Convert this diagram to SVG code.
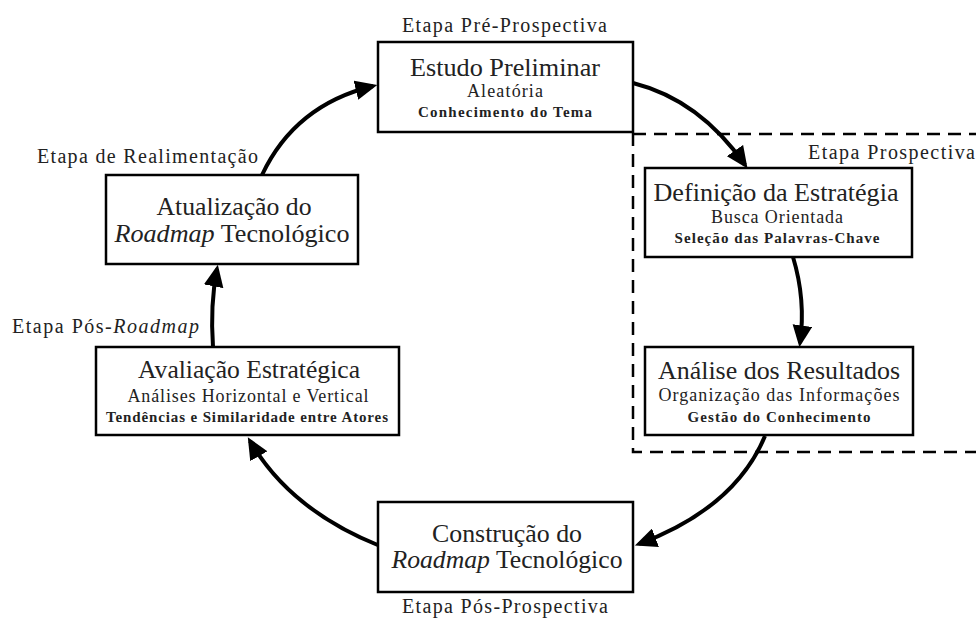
<svg xmlns="http://www.w3.org/2000/svg" width="976" height="619" viewBox="0 0 976 619">
<style>
.box{fill:#fff;stroke:#000;stroke-width:2.5}
.t{font-family:"Liberation Serif","Times New Roman",serif;fill:#222;text-anchor:middle}
.h{font-size:26px}
.s{font-size:18px}
.b{font-size:15px;font-weight:bold}
.lab{font-family:"Liberation Serif","Times New Roman",serif;fill:#222;font-size:20px}
.it{font-style:italic}
.arr{fill:none;stroke:#000;stroke-width:4;marker-end:url(#ah)}
.dash{fill:none;stroke:#000;stroke-width:2.5;stroke-dasharray:13 8}
</style>
<defs>
<marker id="ah" markerUnits="userSpaceOnUse" markerWidth="22" markerHeight="20" refX="16" refY="9" orient="auto" viewBox="0 0 20 18"><path d="M0,0 L20,9 L0,18 z" fill="#000"/></marker>
</defs>
<rect width="976" height="619" fill="#fff"/>
<g id="prospectiva-region">
<rect class="dash" x="633" y="134" width="360" height="318"/>
<text class="lab" x="808" y="159" textLength="167" lengthAdjust="spacing">Etapa Prospectiva</text>
</g>
<g id="connectors">
<path class="arr" d="M262,175 Q295,105 373,86"/>
<path class="arr" d="M633,83 Q700,100 745,165"/>
<path class="arr" d="M793,257 Q806,300 800,343"/>
<path class="arr" d="M765,436 Q735,508 639,544"/>
<path class="arr" d="M380,546 Q290,510 250,441"/>
<path class="arr" d="M213,347 Q210,305 217,269"/>
</g>
<g id="estudo">
<text class="lab" x="402" y="32" textLength="205" lengthAdjust="spacing">Etapa Pré-Prospectiva</text>
<rect class="box" x="378" y="42" width="255" height="90"/>
<text class="t h" x="505" y="76" textLength="190" lengthAdjust="spacingAndGlyphs">Estudo Preliminar</text>
<text class="t s" x="505" y="97" textLength="76" lengthAdjust="spacing">Aleatória</text>
<text class="t b" x="505" y="117" textLength="174" lengthAdjust="spacing">Conhecimento do Tema</text>
</g>
<g id="definicao">
<rect class="box" x="645" y="168" width="267" height="89"/>
<text class="t h" x="776" y="201" textLength="245" lengthAdjust="spacingAndGlyphs">Definição da Estratégia</text>
<text class="t s" x="777" y="223" textLength="132" lengthAdjust="spacing">Busca Orientada</text>
<text class="t b" x="777" y="243" textLength="205" lengthAdjust="spacing">Seleção das Palavras-Chave</text>
</g>
<g id="analise">
<rect class="box" x="645" y="347" width="268" height="88"/>
<text class="t h" x="779" y="379" textLength="242" lengthAdjust="spacingAndGlyphs">Análise dos Resultados</text>
<text class="t s" x="779" y="401" textLength="241" lengthAdjust="spacing">Organização  das Informações</text>
<text class="t b" x="779" y="422" textLength="183" lengthAdjust="spacing">Gestão do Conhecimento</text>
</g>
<g id="construcao">
<rect class="box" x="378" y="502" width="255" height="90"/>
<text class="t h" x="507" y="542" textLength="150" lengthAdjust="spacingAndGlyphs">Construção do</text>
<text class="t h" x="507" y="568" textLength="231" lengthAdjust="spacingAndGlyphs"><tspan class="it">Roadmap</tspan> Tecnológico</text>
<text class="lab" x="402" y="613" textLength="206" lengthAdjust="spacing">Etapa Pós-Prospectiva</text>
</g>
<g id="avaliacao">
<text class="lab" x="12" y="333" textLength="187" lengthAdjust="spacing">Etapa Pós-<tspan class="it">Roadmap</tspan></text>
<rect class="box" x="96" y="347" width="303" height="88"/>
<text class="t h" x="249" y="378" textLength="222" lengthAdjust="spacingAndGlyphs">Avaliação Estratégica</text>
<text class="t s" x="248" y="402" textLength="241" lengthAdjust="spacing">Análises Horizontal e Vertical</text>
<text class="t b" x="247" y="422" textLength="282" lengthAdjust="spacing">Tendências e Similaridade entre Atores</text>
</g>
<g id="atualizacao">
<text class="lab" x="37" y="163" textLength="221" lengthAdjust="spacing">Etapa de Realimentação</text>
<rect class="box" x="106" y="175" width="252" height="89"/>
<text class="t h" x="234" y="215" textLength="155" lengthAdjust="spacingAndGlyphs">Atualização do</text>
<text class="t h" x="232" y="242" textLength="235" lengthAdjust="spacingAndGlyphs"><tspan class="it">Roadmap</tspan> Tecnológico</text>
</g>
</svg>
